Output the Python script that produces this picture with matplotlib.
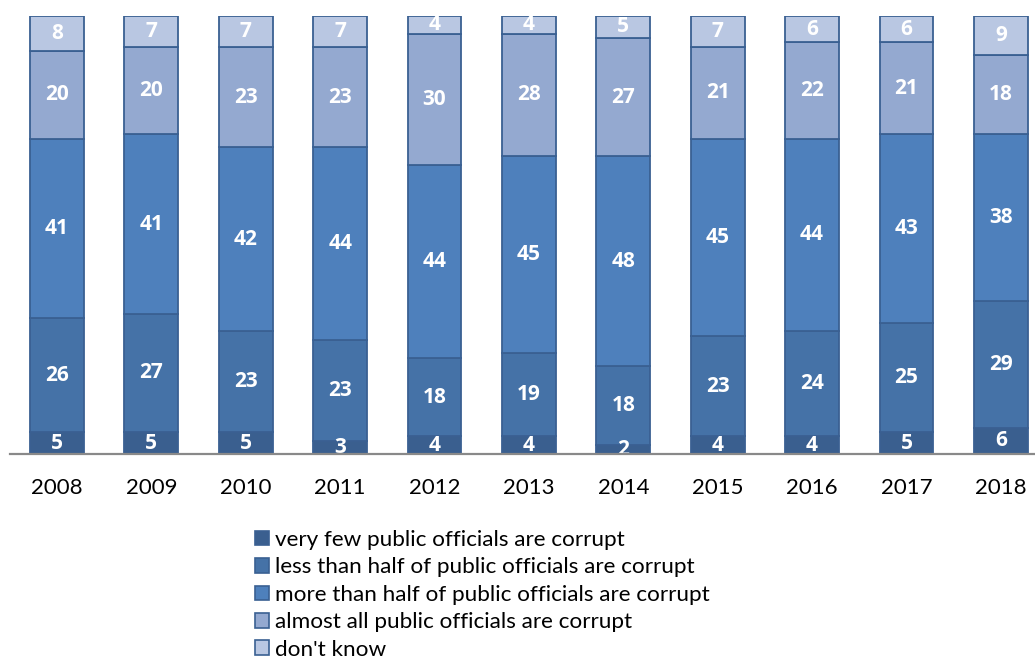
import numpy as np
import matplotlib.pyplot as plt
from matplotlib.patches import Patch

plt.rcParams["font.family"] = ["Lato", "DejaVu Sans"]

years = ["2008", "2009", "2010", "2011", "2012", "2013", "2014", "2015", "2016", "2017", "2018"]

very_few = [5, 5, 5, 3, 4, 4, 2, 4, 4, 5, 6]
less_than_half = [26, 27, 23, 23, 18, 19, 18, 23, 24, 25, 29]
more_than_half = [41, 41, 42, 44, 44, 45, 48, 45, 44, 43, 38]
almost_all = [20, 20, 23, 23, 30, 28, 27, 21, 22, 21, 18]
dont_know = [8, 7, 7, 7, 4, 4, 5, 7, 6, 6, 9]

series_names = [
    "very few public officials are corrupt",
    "less than half of public officials are corrupt",
    "more than half of public officials are corrupt",
    "almost all public officials are corrupt",
    "don't know",
]
series_values = [very_few, less_than_half, more_than_half, almost_all, dont_know]
colors = ["#3A5F8F", "#4572A7", "#4E80BC", "#94A9D0", "#B9C7E2"]
edge_color = "#3A6092"

fig = plt.figure(figsize=(10.35, 6.59), dpi=100)
ax = fig.add_axes([9.8 / 1035, 205 / 659, 1026 / 1035, 438 / 659])

x = np.arange(len(years))
bottom = np.zeros(len(years))
for name, vals, col in zip(series_names, series_values, colors):
    vals = np.array(vals, dtype=float)
    ax.bar(x, vals, bottom=bottom, width=0.57, color=col, edgecolor=edge_color,
           linewidth=1.3, label=name, zorder=2)
    # white value label in the middle of each segment
    for xi, b, v in zip(x, bottom, vals):
        ax.text(xi, b + v / 2, f"{int(v)}", ha="center", va="center",
                color="white", fontsize=15, fontweight="bold",
                family=["Open Sans", "DejaVu Sans"], zorder=3)
    bottom += vals

ax.set_xlim(-0.5, 10.37)
ax.set_ylim(0, 100)
ax.set_yticks([])
ax.set_xticks(x)
ax.set_xticklabels(years, fontsize=16)
ax.tick_params(axis="x", length=0, pad=17)
for side in ["top", "right", "left"]:
    ax.spines[side].set_visible(False)
ax.spines["bottom"].set_color("#898989")
ax.spines["bottom"].set_linewidth(1.6)
ax.spines["bottom"].set_zorder(4)

handles = [Patch(facecolor=c, edgecolor=edge_color, linewidth=1.2) for c in colors]
fig.legend(handles, series_names, loc="upper left",
           bbox_to_anchor=(255 / 1035, 1 - 530 / 659), frameon=False,
           fontsize=16.2, handlelength=0.62, handleheight=0.62,
           handletextpad=0.25, labelspacing=0.33, borderaxespad=0, borderpad=0)

fig.savefig("out.png", dpi=100)
